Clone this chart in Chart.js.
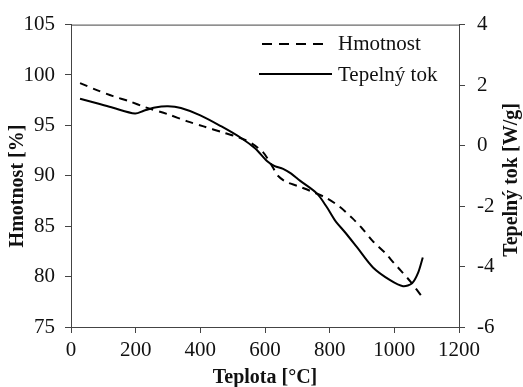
<!DOCTYPE html>
<html>
<head>
<meta charset="utf-8">
<script src="https://cdn.jsdelivr.net/npm/chart.js@4/dist/chart.umd.min.js"></script>
<style>
  body { margin: 0; background: #fff; }
  #wrap { width: 523px; height: 387px; }
</style>
</head>
<body>
<div id="wrap"><canvas id="graf" width="523" height="387"></canvas></div>
<script>
"use strict";
// hmotnost (levá osa)
const teplotaHm = [28, 80, 130, 180, 230, 300, 360, 410, 470, 520, 560, 595, 610, 625, 640, 665, 700, 740, 790, 832, 870, 900, 934, 970, 1000, 1020, 1050, 1088];
const hmotnost = [99.2, 98.5, 97.9, 97.4, 96.8, 96.1, 95.4, 94.9, 94.3, 93.8, 93.2, 92.3, 91.6, 90.8, 90.0, 89.4, 89.0, 88.5, 87.8, 86.9, 85.8, 84.8, 83.5, 82.4, 81.3, 80.6, 79.5, 77.9];
// tepelny tok (prava osa)
const teplotaTok = [28, 80, 130, 198, 225, 260, 300, 340, 400, 464, 526, 570, 606, 630, 656, 680, 708, 761, 792, 817, 850, 885, 934, 987, 1027, 1055, 1073, 1088];
const tok = [1.55, 1.40, 1.25, 1.06, 1.15, 1.26, 1.30, 1.24, 1.00, 0.64, 0.25, -0.10, -0.51, -0.68, -0.77, -0.92, -1.16, -1.59, -2.05, -2.48, -2.90, -3.37, -4.03, -4.45, -4.65, -4.55, -4.22, -3.70];
const nazvy = ["Hmotnost", "Tepelný tok"];

const font = "Liberation Serif, Times New Roman, serif";
const osaBarva = "#444";

function body(xs, ys) {
    let out = [];
    for (let i = 0; i < xs.length; i++) out.push({ x: xs[i], y: ys[i] });
    return out;
}

// ramecek nahore, popisky os a legenda
const doplnky = {
    id: "doplnky",
    afterDraw(chart) {
        const ctx = chart.ctx;
        const a = chart.chartArea;
        ctx.save();
        ctx.strokeStyle = osaBarva;
        ctx.lineWidth = 1;
        ctx.beginPath();
        ctx.moveTo(a.left, a.top + 0.5);
        ctx.lineTo(a.right, a.top + 0.5);
        ctx.stroke();

        ctx.fillStyle = "#111";
        ctx.font = "bold 20px " + font;
        ctx.textAlign = "center";
        ctx.textBaseline = "middle";
        ctx.fillText("Teplota [°C]", 265, 378);

        ctx.save();
        ctx.translate(18, 186);
        ctx.rotate(-Math.PI / 2);
        ctx.fillText("Hmotnost [%]", 0, 0);
        ctx.restore();

        ctx.save();
        ctx.translate(512, 180);
        ctx.rotate(-Math.PI / 2);
        ctx.fillText("Tepelný tok [W/g]", 0, 0);
        ctx.restore();

        // legenda
        ctx.strokeStyle = "#000";
        ctx.lineWidth = 2;
        ctx.setLineDash([10, 7]);
        ctx.beginPath();
        ctx.moveTo(262, 44);
        ctx.lineTo(326, 44);
        ctx.stroke();
        ctx.setLineDash([]);
        ctx.beginPath();
        ctx.moveTo(259, 74);
        ctx.lineTo(332, 74);
        ctx.stroke();
        ctx.font = "21px " + font;
        ctx.textAlign = "left";
        ctx.fillText(nazvy[0], 338, 44);
        ctx.fillText(nazvy[1], 338, 75);
        ctx.restore();
    }
};

const tick = {
    font: { family: font, size: 21 },
    color: "#111",
    callback: function(v) { return String(v); }
};

new Chart(document.getElementById("graf"), {
    type: "line",
    data: {
        datasets: [{
            label: nazvy[0],
            data: body(teplotaHm, hmotnost),
            yAxisID: "y",
            borderColor: "#000",
            borderWidth: 2,
            borderDash: [8, 6],
            pointRadius: 0,
            tension: 0.3,
            fill: false
        }, {
            label: nazvy[1],
            data: body(teplotaTok, tok),
            yAxisID: "y1",
            borderColor: "#000",
            borderWidth: 2,
            pointRadius: 0,
            tension: 0.3,
            fill: false
        }]
    },
    options: {
        responsive: false,
        animation: false,
        layout: { padding: { top: 23, left: 0, right: 0, bottom: 0 } },
        plugins: { legend: { display: false }, tooltip: { enabled: false } },
        scales: {
            x: {
                type: "linear",
                min: 0, max: 1200,
                ticks: Object.assign({ stepSize: 200, padding: 5, maxRotation: 0, autoSkip: false }, tick),
                grid: { drawOnChartArea: false, tickLength: 6, color: osaBarva },
                border: { color: osaBarva },
                afterFit(s) { s.height = 60; }
            },
            y: {
                position: "left",
                min: 75, max: 105,
                ticks: Object.assign({ stepSize: 5, padding: 10 }, tick),
                grid: { drawOnChartArea: false, tickLength: 6, color: osaBarva },
                border: { color: osaBarva },
                afterFit(s) { s.width = 71; }
            },
            y1: {
                position: "right",
                min: -6, max: 4,
                ticks: Object.assign({ stepSize: 2, padding: 12 }, tick),
                grid: { drawOnChartArea: false, tickLength: 6, color: osaBarva },
                border: { color: osaBarva },
                afterFit(s) { s.width = 64; }
            }
        }
    },
    plugins: [doplnky]
});
</script>
</body>
</html>
